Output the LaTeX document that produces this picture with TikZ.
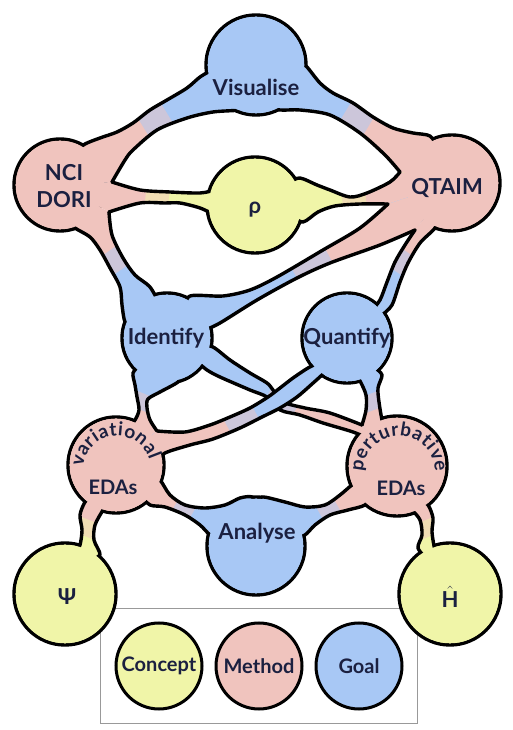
\documentclass[tikz,border=0pt]{standalone}
\usepackage{fontspec}
\setmainfont{Lato}
\usepackage{amsmath}
\usetikzlibrary{positioning,fit,calc,decorations.text}

\definecolor{goal}{HTML}{A8C8F5}
\definecolor{method}{HTML}{F0C4BE}
\definecolor{concept}{HTML}{F0F5A8}
\definecolor{ink}{HTML}{1B2040}

% a band from #1 to #2: colour #3 near #1, colour #4 near #2
\newcommand{\bandfill}[6]{%
  \fill[#3] (#1) -- plot[smooth] coordinates {#5} -- (#2) -- plot[smooth] coordinates {#6} -- cycle;
  \begin{scope}
    \clip ($(#1)!.44!(#2)!400pt!90:(#2)$) -- ($(#1)!.44!(#2)!400pt!-90:(#2)$) -- ($(#2)!500pt!180:(#1)$) -- cycle;
    \fill[#3!50!#4] (#1) -- plot[smooth] coordinates {#5} -- (#2) -- plot[smooth] coordinates {#6} -- cycle;
  \end{scope}
  \begin{scope}
    \clip ($(#1)!.56!(#2)!400pt!90:(#2)$) -- ($(#1)!.56!(#2)!400pt!-90:(#2)$) -- ($(#2)!500pt!180:(#1)$) -- cycle;
    \fill[#4] (#1) -- plot[smooth] coordinates {#5} -- (#2) -- plot[smooth] coordinates {#6} -- cycle;
  \end{scope}}

\begin{document}
\begin{tikzpicture}[
    x=1pt, y=1pt,
    rim/.style={draw=black, line width=3.4pt, line join=round, line cap=round},
    disc/.style={draw=black, line width=3.4pt},
    lbl/.style={text=ink, font=\bfseries\fontsize{22}{27}\selectfont, align=center, inner sep=0pt},
    small/.style={font=\bfseries\fontsize{20}{24}\selectfont},
    key/.style={circle, draw=black, line width=3pt, minimum size=86pt, inner sep=0pt, text=ink, font=\bfseries\fontsize{20}{24}\selectfont},
    frame/.style={draw=black!40, line width=1pt, inner xsep=14pt, inner ysep=13pt}
]

\useasboundingbox (0,0) rectangle (513,730);

\coordinate (vis) at (256,665);
\coordinate (nci) at (60,545);
\coordinate (qtaim) at (452,547);
\coordinate (rho) at (255,525);
\coordinate (ident) at (167,392);
\coordinate (quant) at (347,392);
\coordinate (vari) at (116,265);
\coordinate (pert) at (397,264);
\coordinate (anal) at (256,184);
\coordinate (psi) at (65,136);
\coordinate (ham) at (450,136);

\node[key, fill=concept] (keyconcept) at (159,64) {Concept};
\node[key, fill=method, right=11pt of keyconcept] (keymethod) {Method};
\node[key, fill=goal, right=11pt of keymethod] (keygoal) {Goal};
\node[frame, fit=(keyconcept)(keygoal)] (keybox) {};

\def\discs{vis/50/goal, nci/46/method, qtaim/48/method, rho/48/concept,
    ident/45/goal, quant/45/goal, vari/48/method, pert/50/method, anal/49/goal,
    psi/51/concept, ham/51/concept}

\def\bands{
  vis/nci/goal/method/{(212,660) (200,653) (187,642) (167,630) (150,620) (133,607) (117,598) (100,592) (85,586) (75,578)}/{(112,548) (125,570) (133,580) (157,600) (187,612) (213,618) (240,620) (250,624)},
  vis/qtaim/goal/method/{(262,624) (280,620) (300,620) (330,615) (360,597) (385,575) (400,558)}/{(438,582) (430,594) (413,597) (393,602) (373,613) (353,627) (333,637) (320,647) (307,663) (300,668)},
  nci/rho/method/concept/{(112,548) (140,540) (170,538) (200,537) (215,540)}/{(215,515) (200,522) (180,527) (165,527) (140,527) (109,518)},
  rho/qtaim/concept/method/{(290,515) (303,508) (318,518) (335,524) (360,526) (388,526)}/{(400,558) (390,548) (367,537) (350,533) (330,540) (317,545) (300,552) (290,548)},
  nci/ident/method/goal/{(68,510) (75,502) (90,493) (100,480) (110,462) (120,443) (122,425) (125,408) (133,400)}/{(160,425) (150,443) (135,455) (123,472) (112,495) (109,518)},
  ident/qtaim/goal/method/{(185,420) (190,434) (223,434) (250,440) (277,453) (323,480) (360,502) (388,526)}/{(415,500) (380,485) (330,467) (297,452) (257,430) (220,407) (205,400)},
  qtaim/quant/method/goal/{(415,500) (405,485) (395,468) (387,448) (380,430) (372,420)}/{(382,415) (392,425) (400,448) (408,467) (420,487) (435,502) (440,515)},
  ident/vari/goal/method/{(140,365) (133,357) (135,345) (137,333) (139,320) (135,310) (128,302)}/{(157,299) (150,310) (147,322) (148,331) (160,338) (178,348) (182,356)},
  ident/pert/goal/method/{(200,385) (213,383) (230,370) (250,357) (267,347) (273,340) (283,328) (305,322) (330,317) (362,305)}/{(372,290) (353,298) (323,307) (300,315) (280,320) (267,333) (250,340) (220,353) (207,360) (195,370)},
  quant/pert/goal/method/{(355,355) (360,349) (366,335) (366,320) (362,305)}/{(385,300) (382,310) (379,328) (378,342) (382,355) (375,362)},
  vari/anal/method/goal/{(150,255) (160,250) (170,235) (185,225) (205,222) (225,225) (240,232) (252,233) (256,225)}/{(220,190) (210,195) (200,205) (185,215) (165,223) (150,225) (140,235)},
  pert/anal/method/goal/{(362,250) (352,245) (340,235) (325,225) (305,223) (285,228) (262,233) (256,225)}/{(292,190) (305,195) (315,205) (330,215) (348,220) (365,225) (372,235)},
  vari/psi/method/concept/{(92,235) (85,228) (80,215) (82,200) (80,185) (75,175)}/{(88,170) (100,175) (94,190) (95,205) (103,220) (108,228)},
  pert/ham/method/concept/{(418,232) (428,225) (433,212) (432,198) (435,180) (440,172)}/{(428,170) (418,182) (422,195) (420,210) (412,220) (405,228)}}

% discs with their rims, then the bands and their sides
\foreach \c/\r/\f in \discs
  \filldraw[disc, fill=\f] (\c) circle[radius=\r];
\foreach \a/\b/\ca/\cb/\one/\two in \bands
  \bandfill{\a}{\b}{\ca}{\cb}{\one}{\two};
\foreach \a/\b/\ca/\cb/\one/\two in \bands {
  \draw[rim] plot[smooth] coordinates {\one};
  \draw[rim] plot[smooth] coordinates {\two};
}
\foreach \c/\r/\f in \discs
  \fill[\f] (\c) circle[radius=\r-1.7];

% this band crosses over the other one
\foreach \a/\b/\ca/\cb/\one/\two in {quant/vari/goal/method/{(320,368) (308,362) (293,352) (280,342) (268,333) (250,322) (230,313) (210,305) (185,298) (157,299)}/{(155,268) (165,277) (190,285) (213,291) (240,302) (262,313) (280,322) (297,333) (312,346) (325,358) (330,366)}} {
  \bandfill{\a}{\b}{\ca}{\cb}{\one}{\two}
  \draw[rim] plot[smooth] coordinates {\one};
  \draw[rim] plot[smooth] coordinates {\two};
}
\fill[goal] (quant) circle[radius=43.3];
\fill[method] (vari) circle[radius=46.3];

\node[lbl] (visl) at (256,643) {Visualise};
\node[lbl] (ncil) at (64,543.5) {NCI\\DORI};
\node[lbl] (qtaiml) at (447,542) {QTAIM};
\node[lbl] (rhol) at (255,520) {ρ};
\node[lbl] (identl) at (166,392) {Identify};
\node[lbl] (quantl) at (347,392) {Quantify};
\node[lbl, small] (varil) at (113,243) {EDAs};
\node[lbl, small] (pertl) at (401,242) {EDAs};
\node[lbl] (anall) at (257,197) {Analyse};
\node[lbl] (psil) at (67,133) {Ψ};
\node[lbl] (haml) at (450,133) {\(\hat{\text{H}}\)};

\coordinate (variarc) at (117,260);
\coordinate (pertarc) at (399,258);
\path[decorate, decoration={text along path, text={|\bfseries\fontsize{19}{19}\selectfont|variational}, text align=fit to path, text color=ink}]
  ([shift={(175:34)}]variarc) arc[start angle=175, end angle=17, radius=34];
\path[decorate, decoration={text along path, text={|\bfseries\fontsize{19}{19}\selectfont|perturbative}, text align=fit to path, text color=ink}]
  ([shift={(180:36)}]pertarc) arc[start angle=180, end angle=0, radius=36];

\end{tikzpicture}
\end{document}
